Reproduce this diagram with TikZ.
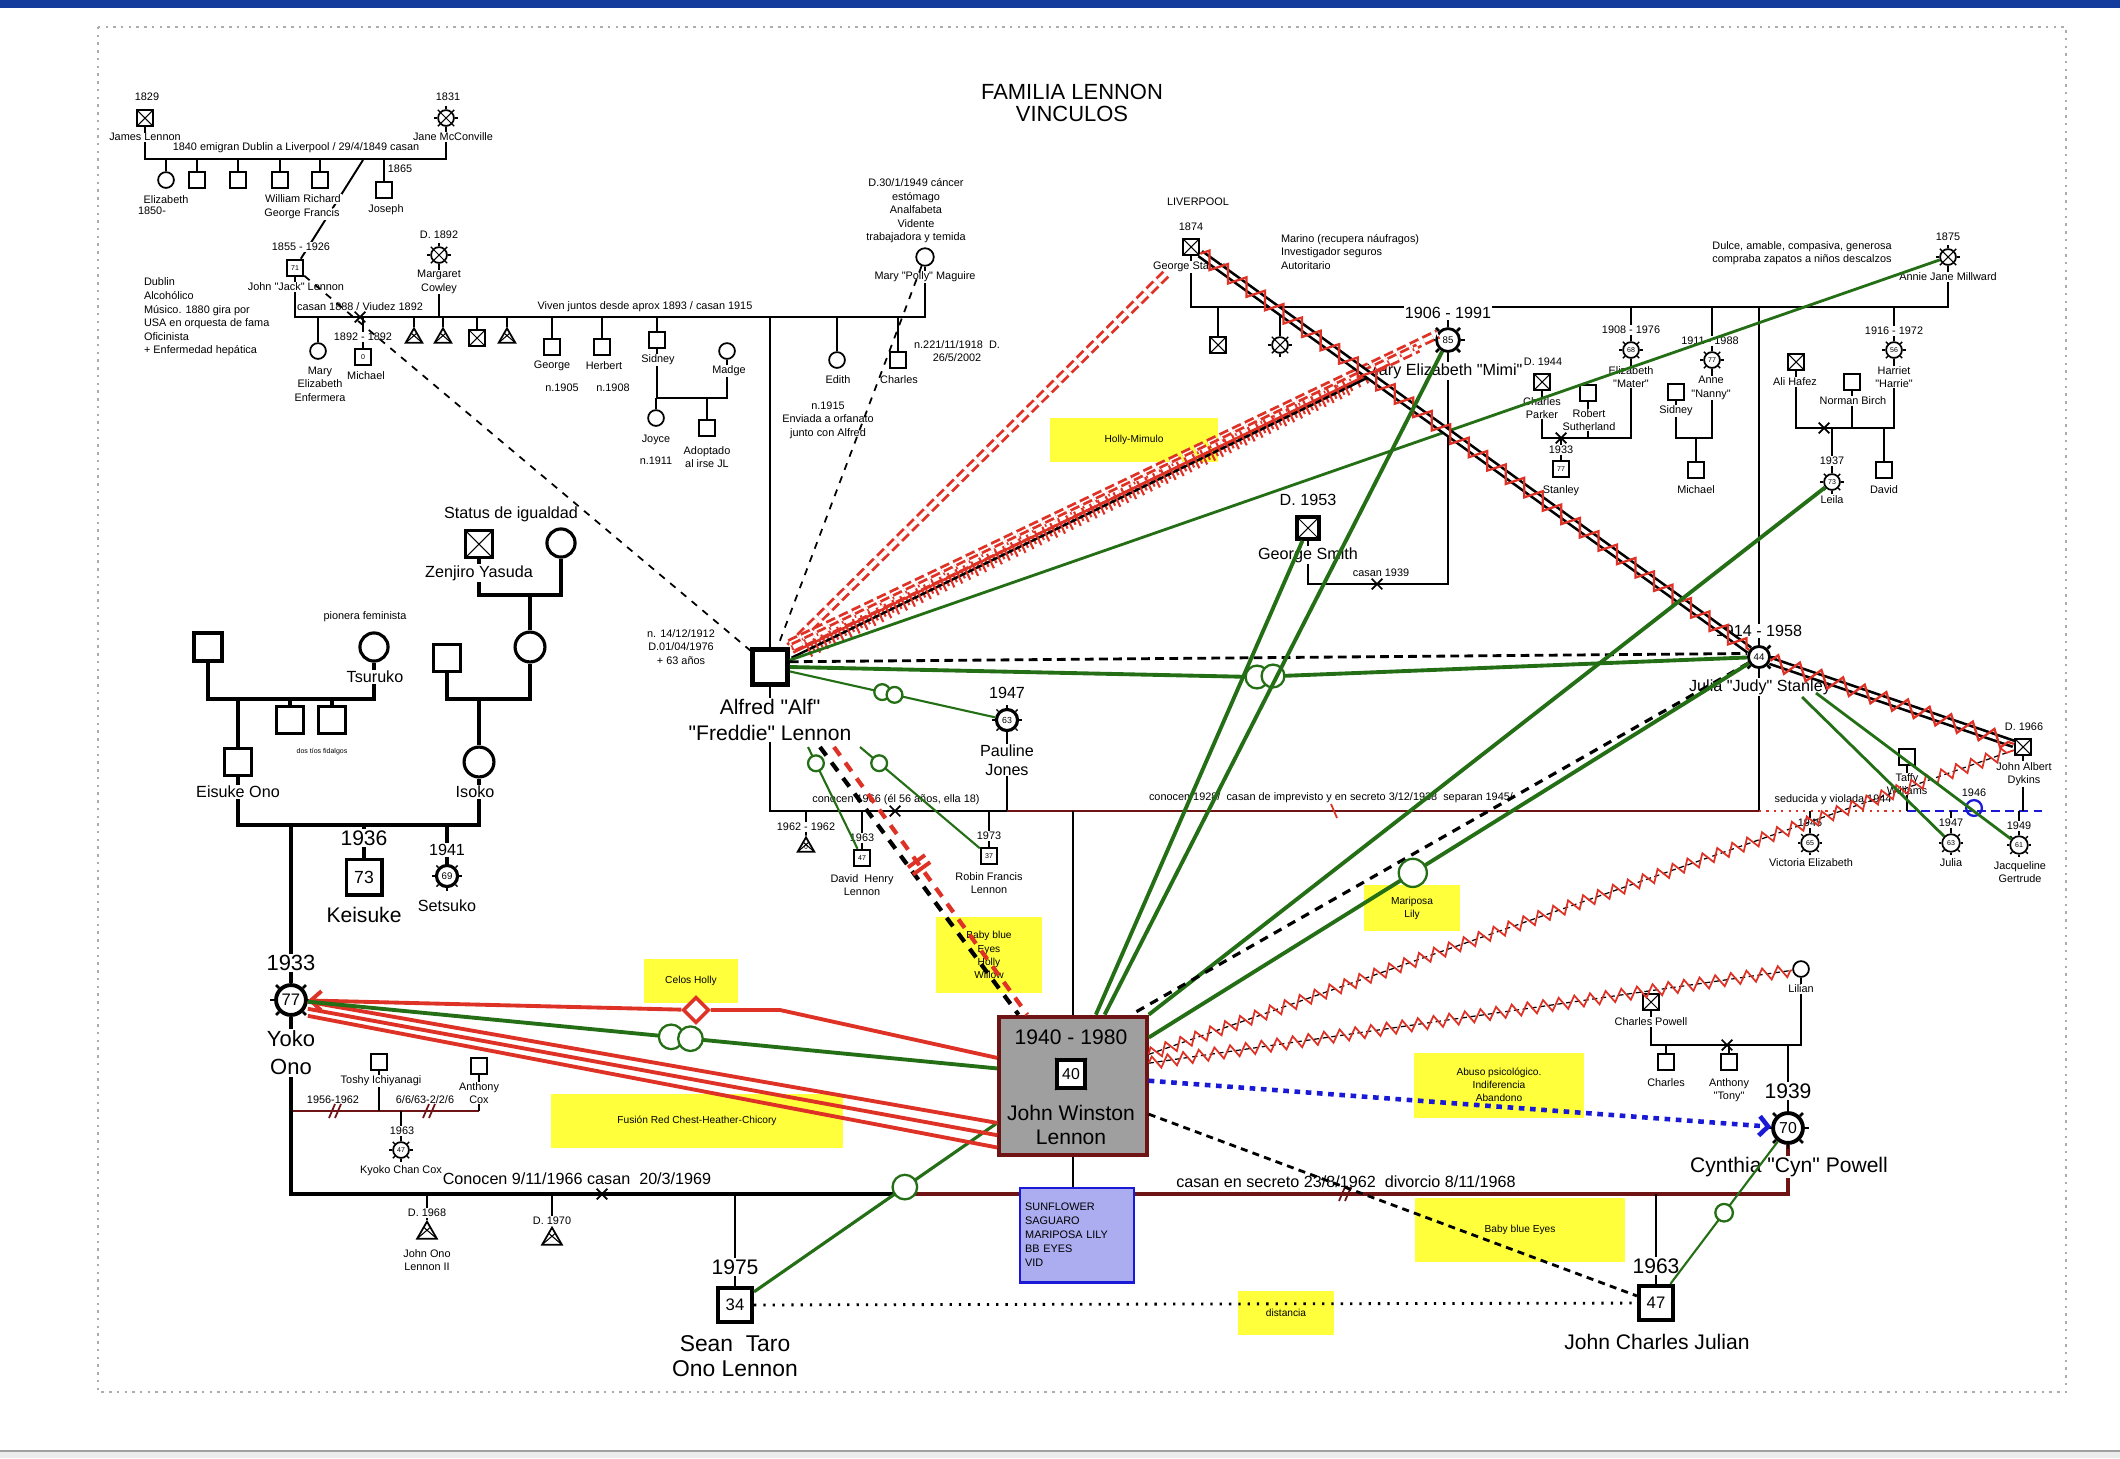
\documentclass[tikz,border=0pt]{standalone}
\usepackage{fontspec}
\setmainfont{Liberation Sans}[Ligatures=TeXOff]
\usetikzlibrary{arrows.meta,positioning,shapes.geometric,shapes.misc,decorations.pathmorphing,decorations.markings}
\definecolor{grn}{RGB}{36,110,22}
\definecolor{rd}{RGB}{222,50,38}
\definecolor{drd}{RGB}{110,20,20}
\definecolor{yel}{RGB}{255,255,60}
\definecolor{lav}{RGB}{172,172,240}
\definecolor{blu}{RGB}{26,26,214}
\definecolor{topbar}{RGB}{20,60,156}
\definecolor{frm}{RGB}{172,172,172}

\begin{document}
\begin{tikzpicture}[x=0.02cm,y=-0.02cm,>=Latex,
  tx/.style={font=\fontsize{6.2}{7.7}\selectfont,inner sep=0.4pt,align=center,fill=white},
  tm/.style={font=\fontsize{9.2}{10.6}\selectfont,inner sep=0.6pt,align=center,fill=white},
  tg/.style={font=\fontsize{12}{14}\selectfont,inner sep=0.8pt,align=center,fill=white},
  man/.style={draw,rectangle,fill=white,minimum size=9.5pt,inner sep=0pt,line width=1pt,font=\fontsize{4}{4}\selectfont},
  wom/.style={draw,circle,fill=white,minimum size=9pt,inner sep=0pt,line width=1pt,font=\fontsize{4}{4}\selectfont},
  lost/.style={draw,regular polygon,regular polygon sides=3,minimum size=11pt,inner sep=0pt,line width=1pt,fill=white,font=\fontsize{3.5}{3.5}\selectfont},
  dead/.style={path picture={\draw[line width=0.6pt] (path picture bounding box.south west) -- (path picture bounding box.north east) (path picture bounding box.north west) -- (path picture bounding box.south east);}},
  bold/.style={line width=2.2pt,minimum size=#1,font=\fontsize{9.5}{9.5}\selectfont},
  ono/.style={line width=1.8pt,minimum size=#1},
  xm/.style={cross out,draw,line width=1pt,minimum size=5pt,inner sep=0pt},
  fam/.style={line width=1.1pt},
  famb/.style={line width=2pt},
  note/.style={fill=yel,inner sep=0pt,font=\fontsize{5.8}{7.5}\selectfont,align=center},
  dsh/.style={line width=1pt,dash pattern=on 4pt off 4pt},
  rdd/.style={rd,line width=1.6pt,dash pattern=on 5.5pt off 2.5pt,double=white,double distance=2.4pt},
  gl/.style={grn,line width=2.2pt},
  gt/.style={grn,line width=1.2pt},
  ring/.style={circle,draw=grn,fill=white,line width=1.3pt,minimum size=#1,inner sep=0pt},
  zz/.style={rd,line width=1pt,decorate,decoration={zigzag,segment length=9pt,amplitude=3.5pt}},
  hatch/.style={line width=1.4pt,postaction={decorate,decoration={markings,mark=between positions 0.03 and 0.97 step 5pt with {\draw[rd,solid,line width=1.2pt] (0,-4.5pt) -- (0,4.5pt);}}}},
  tline/.style={rd,line width=1.4pt,postaction={decorate,decoration={markings,mark=between positions 0.03 and 0.97 step 5pt with {\draw[rd,solid,line width=1.2pt] (0,0) -- (0,-4.5pt);}}}},
]
\useasboundingbox (0,0) rectangle (2120,1458);
% marco
\fill[topbar] (0,0) rectangle (2120,8);
\fill[gray!15] (0,1451) rectangle (2120,1458);
\draw[gray!75,line width=1.2pt] (0,1451) -- (2120,1451);
\draw[frm,line width=1.4pt,dash pattern=on 1.4pt off 3pt] (98,27) rectangle (2066,1392);

% notas amarillas
\node[note,minimum width=96pt,minimum height=25pt] (nholly) at (1134,440) {Holly-Mimulo};
\node[note,minimum width=60pt,minimum height=43pt] (nbaby) at (989,955) {Baby blue\\Eyes\\Holly\\Willow};
\node[note,minimum width=54pt,minimum height=24.5pt] (ncelos) at (691,981) {Celos Holly};
\node[note,minimum width=166pt,minimum height=31pt] (nfusion) at (697,1121) {Fusión Red Chest-Heather-Chicory};
\node[note,minimum width=55pt,minimum height=26pt] (nmari) at (1412,908) {Mariposa\\Lily};
\node[note,minimum width=97pt,minimum height=37pt] (nabuso) at (1499,1085) {Abuso psicológico.\\Indiferencia\\Abandono};
\node[note,minimum width=120pt,minimum height=36pt] (nbabyb) at (1520,1230) {Baby blue Eyes};
\node[note,minimum width=55pt,minimum height=24.5pt] (ndist) at (1286,1313) {distancia};

\node[font=\fontsize{12.5}{12.5}\selectfont,align=center] (titulo) at (1072,103) {FAMILIA LENNON\\VINCULOS};

% Lennon
\node[man,dead] (james) at (145,118) {};
\node[wom,dead] (jane) at (446,118) {};
\node[wom] (eliz) at (166,180) {};
\node[man] (bro1) at (197,180) {};
\node[man] (bro2) at (238,180) {};
\node[man] (bro3) at (280,180) {};
\node[man] (bro4) at (320,180) {};
\node[man] (joseph) at (384,190) {};
\node[man] (jack) at (295,268) {71};
\node[wom,dead] (marg) at (439,255) {};
\node[wom,minimum size=10pt] (polly) at (925,257) {};
\node[wom] (maryel) at (318,351) {};
\node[man] (michael) at (363,357) {0};
\node[lost,dead] (lost1) at (414,338) {};
\node[lost,dead] (lost2) at (443,338) {};
\node[man,dead] (bro5) at (477,338) {};
\node[lost,dead] (lost3) at (507,338) {};
\node[man] (george) at (552,347) {};
\node[man] (herbert) at (602,347) {};
\node[man] (sidney) at (657,340) {};
\node[wom] (madge) at (727,351) {};
\node[wom] (joyce) at (656,418) {};
\node[man] (adopt) at (707,428) {};
\node[wom] (edith) at (837,360) {};
\node[man] (charles) at (898,360) {};

% Stanley
\node[man,dead] (gstan) at (1191,247) {};
\node[wom,dead] (annie) at (1948,257) {};
\node[man,dead] (sbro) at (1218,345) {};
\node[wom,dead] (ssis) at (1280,345) {};
\node[wom,minimum size=13pt,line width=1.6pt,font=\fontsize{5.5}{5.5}\selectfont] (mimi) at (1448,340) {85};
\node[wom] (mater) at (1631,350) {68};
\node[wom] (nanny) at (1712,360) {77};
\node[wom] (harriet) at (1894,350) {56};
\node[man,dead] (cparker) at (1542,382) {};
\node[man] (rsuth) at (1588,393) {};
\node[man] (stanley) at (1561,469) {77};
\node[man] (sidney2) at (1676,392) {};
\node[man] (michael2) at (1696,470) {};
\node[man,dead] (ali) at (1796,362) {};
\node[man] (norman) at (1852,382) {};
\node[wom] (leila) at (1832,482) {73};
\node[man] (david) at (1884,470) {};
\node[man,dead,minimum size=12.5pt,line width=2pt] (gsmith) at (1308,528) {};
\node[wom,minimum size=12pt,line width=1.6pt,font=\fontsize{5.5}{5.5}\selectfont] (julia) at (1759,657) {44};
\node[man] (taffy) at (1907,757) {};
\node[man,dead] (dykins) at (2023,747) {};
\node[wom,draw=blu,line width=1.3pt] (bchild) at (1974,808) {};
\node[wom,minimum size=10pt] (vicky) at (1810,843) {65};
\node[wom,minimum size=10pt] (juliad) at (1951,843) {63};
\node[wom,minimum size=10pt] (jacq) at (2019,845) {61};

% Alfred y Pauline
\node[man,line width=2.5pt,minimum size=20pt] (alfred) at (770,667) {};
\node[wom,minimum size=12pt,line width=1.8pt,font=\fontsize{5}{5}\selectfont] (pauline) at (1007,720) {63};
\node[lost,dead] (lost4) at (806,847) {0};
\node[man] (dhenry) at (862,858) {47};
\node[man] (robin) at (989,856) {37};

% John
\node[draw=drd,fill=gray!75,line width=2.2pt,minimum width=84pt,minimum height=79pt,inner sep=0pt] (johnbox) at (1073,1086) {};
\node[man,line width=2pt,minimum size=16pt,font=\fontsize{9}{9}\selectfont] (jsq) at (1071,1074) {40};

% Ono
\node[man,dead,ono=15pt] (zenjiro) at (479,544) {};
\node[wom,ono=16pt] (zwife) at (561,543) {};
\node[wom,ono=17pt] (imother) at (530,647) {};
\node[man,ono=15.5pt] (ifather) at (447,658) {};
\node[wom,ono=17pt] (isoko) at (479,762) {};
\node[man,ono=16pt] (efather) at (208,647) {};
\node[wom,ono=16pt] (tsuruko) at (374,647) {};
\node[man,ono=15.5pt] (tio1) at (290,720) {};
\node[man,ono=15.5pt] (tio2) at (332,720) {};
\node[man,ono=15pt] (eisuke) at (238,762) {};
\node[man,bold=20pt,font=\fontsize{10}{10}\selectfont] (keisuke) at (364,877) {73};
\node[wom,minimum size=12pt,line width=1.8pt,font=\fontsize{5.5}{5.5}\selectfont] (setsuko) at (447,876) {69};
\node[wom,bold=17pt] (yoko) at (291,1000) {77};
\node[man] (toshi) at (379,1062) {};
\node[man] (acox) at (479,1066) {};
\node[wom] (kyoko) at (401,1150) {47};
\node[lost,dead,minimum size=13pt] (jol) at (427,1233) {};
\node[lost,dead,minimum size=13pt] (lost5) at (552,1239) {};
\node[man,bold=19.5pt] (sean) at (735,1305) {34};
\node[wom,bold=17pt,font=\fontsize{9}{9}\selectfont] (cynthia) at (1788,1128) {70};
\node[man,dead] (cpowell) at (1651,1002) {};
\node[wom] (lilian) at (1801,969) {};
\node[man] (charlesp) at (1666,1062) {};
\node[man] (anthony) at (1729,1062) {};
\node[man,bold=19.5pt] (julian) at (1656,1303) {47};
\node[diamond,draw=rd,fill=white,line width=2pt,minimum size=15pt,inner sep=0pt] (dia) at (696,1010) {};

\coordinate (m1) at (0,159);
\coordinate (m2) at (0,317);
\coordinate (m3) at (0,398);
\coordinate (m4) at (0,307);
\coordinate (m5) at (0,584);
\coordinate (m6) at (0,438);
\coordinate (m7) at (0,428);
\coordinate (m8) at (0,811);
\coordinate (m9) at (0,1194);
\coordinate (m10) at (0,595);
\coordinate (m11) at (0,699);
\coordinate (m12) at (0,825);
\coordinate (m13) at (0,1111);
\coordinate (m14) at (0,1045);
\coordinate (jk1) at (363,160);
\coordinate (m9b) at (905,1194);
\coordinate (bl1) at (2043,811);

% lineas familiares
\draw[fam] (james) -- (james|-m1) -- (jane|-m1) -- (jane);
\foreach \c in {eliz,bro1,bro2,bro3,bro4,joseph} \draw[fam] (\c) -- (\c|-m1);
\draw[fam] (jk1) -- (jack);
\draw[fam] (jack) -- (jack|-m2) -- (polly|-m2) -- (polly);
\foreach \c in {marg,maryel,michael,lost1,lost2,bro5,lost3,george,herbert,sidney,alfred,edith,charles} \draw[fam] (\c) -- (\c|-m2);
\draw[fam] (sidney) -- (sidney|-m3) -- (madge|-m3) -- (madge);
\foreach \c in {joyce,adopt} \draw[fam] (\c) -- (\c|-m3);

\draw[fam] (gstan) -- (gstan|-m4) -- (annie|-m4) -- (annie);
\foreach \c in {sbro,ssis,mimi,mater,nanny,harriet,julia} \draw[fam] (\c) -- (\c|-m4);
\draw[fam] (mimi) -- (mimi|-m5) -- (gsmith|-m5) -- (gsmith);
\draw[fam] (cparker) -- (cparker|-m6) -- (mater|-m6) -- (mater);
\foreach \c in {rsuth,stanley} \draw[fam] (\c) -- (\c|-m6);
\draw[fam] (sidney2) -- (sidney2|-m6) -- (nanny|-m6) -- (nanny);
\draw[fam] (michael2) -- (michael2|-m6);
\draw[fam] (ali) -- (ali|-m7) -- (harriet|-m7) -- (harriet);
\foreach \c in {norman,leila,david} \draw[fam] (\c) -- (\c|-m7);

\draw[fam] (alfred) -- (alfred|-m8) -- (pauline|-m8) -- (pauline);
\draw[fam,drd] (pauline|-m8) -- (julia|-m8);
\draw[fam] (julia) -- (julia|-m8);
\draw[rd,line width=1.2pt,dash pattern=on 1.2pt off 3pt] (julia|-m8) -- (taffy|-m8);
\draw[blu,line width=1.6pt,dash pattern=on 5pt off 3pt] (taffy|-m8) -- (bl1);
\foreach \c in {taffy,dykins,vicky,juliad,jacq,lost4,dhenry,robin} \draw[fam] (\c) -- (\c|-m8);
\draw[fam] (johnbox) -- (johnbox|-m8);

\draw[famb] (zenjiro) -- (zenjiro|-m10) -- (zwife|-m10) -- (zwife);
\draw[famb] (imother) -- (imother|-m10);
\draw[famb] (ifather) -- (ifather|-m11) -- (imother|-m11) -- (imother);
\draw[famb] (isoko) -- (isoko|-m11);
\draw[famb] (efather) -- (efather|-m11) -- (tsuruko|-m11) -- (tsuruko);
\foreach \c in {tio1,tio2,eisuke} \draw[famb] (\c) -- (\c|-m11);
\draw[famb] (eisuke) -- (eisuke|-m12) -- (isoko|-m12) -- (isoko);
\foreach \c in {keisuke,setsuko,yoko} \draw[famb] (\c) -- (\c|-m12);

\draw[fam,drd,line width=1.6pt] (yoko|-m13) -- (acox|-m13);
\foreach \c in {toshi,acox,kyoko} \draw[fam] (\c) -- (\c|-m13);
\draw[famb] (yoko) -- (yoko|-m9) -- (m9b);
\draw[drd,line width=2pt] (m9b) -- (cynthia|-m9) -- (cynthia);
\foreach \c in {jol,lost5,sean,julian} \draw[fam] (\c) -- (\c|-m9);
\draw[fam] (johnbox) -- (johnbox|-m9);
\draw[fam] (cpowell) -- (cpowell|-m14) -- (lilian|-m14) -- (lilian);
\foreach \c in {charlesp,anthony,cynthia} \draw[fam] (\c) -- (\c|-m14);

\node[draw=blu,fill=lav,line width=1.2pt,text width=59pt,minimum height=54pt,inner sep=3pt,align=left,font=\fontsize{6.2}{8}\selectfont] (sunbox) at (1077,1235) {SUNFLOWER\\SAGUARO\\MARIPOSA LILY\\BB EYES\\VID};

% cruces y barras
\node[xm] (x1) at (360,317) {};
\node[xm] (x2) at (1561,438) {};
\node[xm] (x3) at (1824,428) {};
\node[xm] (x4) at (1377,584) {};
\node[xm] (x5) at (895,811) {};
\node[xm] (x6) at (602,1194) {};
\node[xm] (x7) at (1727,1045) {};
\foreach \p in {(333,1111),(427,1111),(1343,1194)}
  \draw[drd,line width=1pt] \p ++(-4,7) -- ++(6,-14) \p ++(2,7) -- ++(6,-14);
\draw[rd,line width=1pt] (1331,804) -- (1337,818);

% marcas de edad
\foreach \n in {jane,marg,ssis,annie,mater,nanny,harriet,leila,pauline,vicky,juliad,jacq,setsuko,kyoko}
  \foreach \a in {0,45,...,315} \draw[line width=0.8pt] (\n.\a) -- ++(\a:1.6pt);
\foreach \n in {mimi,julia,yoko,cynthia}
  \foreach \a in {0,45,...,315} \draw[line width=1.5pt] (\n.\a) -- ++(\a:2.4pt);
\foreach \a in {45,135,225,315} \draw[line width=1pt] (jsq.\a) -- ++(\a+180:3pt);

% textos Lennon
\node[tx] (l1829) at (147,97) {1829};
\node[tx] (ljames) at (145,137) {James Lennon};
\node[tx] (l1831) at (448,97) {1831};
\node[tx] (ljane) at (453,137) {Jane McConville};
\node[tx,fill=none] (l1840) at (296,148) {1840 emigran Dublin a Liverpool / 29/4/1849 casan};
\node[tx] (leliz) at (166,200) {Elizabeth};
\node[tx] (l1850) at (152,211) {1850-};
\node[tx] (lwill) at (303,199) {William Richard};
\node[tx] (lgeof) at (302,214) {George Francis};
\node[tx] (l1865) at (400,169) {1865};
\node[tx] (ljoseph) at (386,210) {Joseph};
\node[tx] (l1855) at (301,247) {1855 - 1926};
\node[tx,align=left,anchor=north west,fill=none] (ldublin) at (143,277) {Dublin\\Alcohólico\\Músico. 1880 gira por\\USA en orquesta de fama\\Oficinista\\+ Enfermedad hepática};
\node[tx] (ljack) at (296,287) {John "Jack" Lennon};
\node[tx] (ld1892) at (439,235) {D. 1892};
\node[tx] (lmarg) at (439,282) {Margaret\\Cowley};
\node[tx,fill=none] (lcasan88) at (360,307) {casan 1888 / Viudez 1892};
\node[tx,fill=none] (lviven) at (645,307) {Viven juntos desde aprox 1893 / casan 1915};
\node[tx] (l1892) at (363,337) {1892 - 1892};
\node[tx] (lmaryel) at (320,384) {Mary\\Elizabeth\\Enfermera};
\node[tx] (lmichael) at (366,376) {Michael};
\node[tx] (lgeorge) at (552,366) {George};
\node[tx] (ln1905) at (562,388) {n.1905};
\node[tx] (lherbert) at (604,366) {Herbert};
\node[tx] (ln1908) at (613,388) {n.1908};
\node[tx] (lsidney) at (658,360) {Sidney};
\node[tx] (lmadge) at (729,371) {Madge};
\node[tx] (ljoyce) at (656,440) {Joyce};
\node[tx] (ln1911) at (656,461) {n.1911};
\node[tx] (ladopt) at (707,457) {Adoptado\\al irse JL};
\node[tx] (ledith) at (838,380) {Edith};
\node[tx] (lcharles) at (899,380) {Charles};
\node[tx] (lcharlesd) at (957,351) {n.221/11/1918\ \ D.\\26/5/2002};
\node[tx] (ln1915) at (828,420) {n.1915\\Enviada a orfanato\\junto con Alfred};
\node[tx] (lpolly) at (925,277) {Mary "Polly" Maguire};
\node[tx] (lpollyn) at (916,211) {D.30/1/1949 cáncer\\estómago\\Analfabeta\\Vidente\\trabajadora y temida};

% textos Stanley
\node[tx] (lliv) at (1198,202) {LIVERPOOL};
\node[tx] (l1874) at (1191,227) {1874};
\node[tx] (lgstan) at (1191,267) {George Stanley};
\node[tx,align=left,anchor=north west] (lmarino) at (1280,233) {Marino (recupera náufragos)\\Investigador seguros\\Autoritario};
\node[tx] (l1875) at (1948,237) {1875};
\node[tx] (lannie) at (1948,277) {Annie Jane Millward};
\node[tx] (ldulce) at (1802,253) {Dulce, amable, compasiva, generosa\\compraba zapatos a niños descalzos};
\node[tm] (l1906) at (1448,313) {1906 - 1991};
\node[tm] (lmimi) at (1444,371) {Mary Elizabeth "Mimi"};
\node[tx] (ld1944) at (1543,362) {D. 1944};
\node[tx] (lcparker) at (1542,408) {Charles\\Parker};
\node[tx] (l1908) at (1631,330) {1908 - 1976};
\node[tx] (lmater) at (1631,377) {Elizabeth\\"Mater"};
\node[tx] (lrsuth) at (1589,420) {Robert\\Sutherland};
\node[tx] (l1933s) at (1561,450) {1933};
\node[tx] (lstanley) at (1561,491) {Stanley};
\node[tx] (l1911) at (1710,341) {1911 - 1988};
\node[tx] (lnanny) at (1711,388) {Anne\\"Nanny"};
\node[tx] (lsidney2) at (1676,411) {Sidney};
\node[tx] (lmichael2) at (1696,490) {Michael};
\node[tx] (l1916) at (1894,331) {1916 - 1972};
\node[tx] (lharriet) at (1894,377) {Harriet\\"Harrie"};
\node[tx] (lali) at (1795,382) {Ali Hafez};
\node[tx] (lnorman) at (1853,401) {Norman Birch};
\node[tx] (l1937) at (1832,461) {1937};
\node[tx] (lleila) at (1832,500) {Leila};
\node[tx] (ldavid) at (1884,490) {David};
\node[tm] (ld1953) at (1308,500) {D. 1953};
\node[tm] (lgsmith) at (1308,555) {George Smith};
\node[tx,fill=none] (lcasan39) at (1381,573) {casan 1939};
\node[tm] (l1914) at (1759,631) {1914 - 1958};
\node[tm] (ljulia) at (1760,687) {Julia "Judy" Stanley};
\node[tx] (ld1966) at (2024,727) {D. 1966};
\node[tx] (ldykins) at (2024,774) {John Albert\\Dykins};
\node[tx] (ltaffy) at (1907,784) {Taffy\\Williams};
\node[tx,fill=none] (lseduc) at (1833,800) {seducida y violada 1944};
\node[tx,fill=none] (l1946) at (1974,793) {1946};
\node[tx] (l1945) at (1810,823) {1945};
\node[tx] (lvicky) at (1811,863) {Victoria Elizabeth};
\node[tx] (l1947j) at (1951,823) {1947};
\node[tx] (ljuliad) at (1951,863) {Julia};
\node[tx] (l1949) at (2019,826) {1949};
\node[tx] (ljacq) at (2020,872) {Jacqueline\\Gertrude};

% textos Alfred y John
\node[tx] (lalfredn) at (681,647) {n. 14/12/1912\\D.01/04/1976\\+ 63 años};
\node[tg,font=\fontsize{12}{15}\selectfont] (lalfred) at (770,720) {Alfred "Alf"\\"Freddie" Lennon};
\node[tm] (l1947p) at (1007,693) {1947};
\node[tm] (lpauline) at (1007,760) {Pauline\\Jones};
\node[tx,fill=none] (lconoc66) at (896,800) {conocen 1966 (él 56 años, ella 18)};
\node[tx,fill=none] (lconoc28) at (1331,798) {conocen 1928/\ \ casan de imprevisto y en secreto 3/12/1938\ \ separan 1945/};
\node[tx] (l1962) at (806,827) {1962 - 1962};
\node[tx] (l1963d) at (862,838) {1963};
\node[tx] (ldhenry) at (862,885) {David\ \ Henry\\Lennon};
\node[tx] (l1973) at (989,836) {1973};
\node[tx] (lrobin) at (989,883) {Robin Francis\\Lennon};
\node[tg,fill=none] (l1940) at (1071,1037) {1940 - 1980};
\node[tg,fill=none] (ljohn) at (1071,1125) {John Winston\\Lennon};

% textos Ono
\node[tm] (lstatus) at (511,514) {Status de igualdad};
\node[tm] (lzenjiro) at (479,573) {Zenjiro Yasuda};
\node[tx] (lpionera) at (365,617) {pionera feminista};
\node[tm] (ltsuruko) at (375,677) {Tsuruko};
\node[tx,font=\fontsize{4}{4}\selectfont] (ltios) at (322,752) {dos tíos fidalgos};
\node[tm] (leisuke) at (238,792) {Eisuke Ono};
\node[tm] (lisoko) at (475,792) {Isoko};
\node[tg] (l1936) at (364,838) {1936};
\node[tg] (lkeisuke) at (364,915) {Keisuke};
\node[tm] (l1941) at (447,850) {1941};
\node[tm] (lsetsuko) at (447,906) {Setsuko};
\node[tg,font=\fontsize{12.5}{16}\selectfont] (l1933) at (291,963) {1933};
\node[tg,font=\fontsize{12.5}{16}\selectfont] (lyoko) at (291,1053) {Yoko\\Ono};
\node[tx] (ltoshi) at (381,1081) {Toshy Ichiyanagi};
\node[tx] (lacox) at (479,1093) {Anthony\\Cox};
\node[tx,fill=none] (l1956) at (333,1100) {1956-1962};
\node[tx,fill=none] (l6663) at (425,1100) {6/6/63-2/2/6};
\node[tx] (l1963k) at (402,1131) {1963};
\node[tx] (lkyoko) at (401,1171) {Kyoko Chan Cox};
\node[tm,fill=none] (lconoc69) at (577,1179) {Conocen 9/11/1966 casan\ \ 20/3/1969};
\node[tx] (ld1968) at (427,1213) {D. 1968};
\node[tx] (ljol) at (427,1260) {John Ono\\Lennon II};
\node[tx] (ld1970) at (552,1221) {D. 1970};
\node[tg] (l1975) at (735,1267) {1975};
\node[tg,font=\fontsize{13}{14.5}\selectfont] (lsean) at (735,1356) {Sean\ \ Taro\\Ono Lennon};
\node[tm,fill=none] (lcasan62) at (1346,1182) {casan en secreto 23/8/1962\ \ divorcio 8/11/1968};
\node[tx] (lcpowell) at (1651,1022) {Charles Powell};
\node[tx] (llilian) at (1801,989) {Lilian};
\node[tx] (lcharlesp) at (1666,1083) {Charles};
\node[tx] (lanthony) at (1729,1090) {Anthony\\"Tony"};
\node[tg] (l1939) at (1788,1091) {1939};
\node[tg] (lcynthia) at (1789,1167) {Cynthia "Cyn" Powell};
\node[tg] (l1963j) at (1656,1266) {1963};
\node[tg] (ljulian) at (1657,1342) {John Charles Julian};

% vinculos
\coordinate (gs1) at (1166,274);
\coordinate (mf1) at (1438,334);
\coordinate (mf2) at (1418,348);
\coordinate (mf3) at (1390,364);
\coordinate (mf4) at (1367,378);
\coordinate (fs1) at (820,747);
\coordinate (fs2) at (834,747);
\coordinate (ga1) at (808,747);
\coordinate (ga2) at (860,747);
\coordinate (jd1) at (1802,697);
\coordinate (jd2) at (1816,693);
\coordinate (dm2) at (780,1010);
\coordinate (aj) at (1255,677);

\draw[dsh] (jack) -- (alfred);
\draw[dsh] (polly) -- (alfred);
\draw[rdd] (alfred.north east) -- (gs1);
\draw[rdd] ([yshift=2pt]alfred.north east) -- (mf1);
\draw[rdd] ([xshift=2pt]alfred.north east) -- (mf2);
\draw[tline] ([xshift=2pt,yshift=-3pt]alfred.north east) -- (mf3);
\draw[hatch] ([xshift=1pt,yshift=-6pt]alfred.north east) -- (mf4);
\draw[gt,line width=1.6pt] (alfred) -- (annie);
\draw[line width=1.6pt,dash pattern=on 5pt off 3pt] ([yshift=3pt]alfred.east) -- ([yshift=2pt]julia.west);
\draw[gl] (alfred.east) -- (aj) -- (julia);
\node[ring=13pt] (r1) at (1257,677) {};
\node[ring=13pt] (r2) at (1273,676) {};
\draw[gt] (alfred) -- node[ring=9pt,pos=0.45] (r3) {} node[ring=9pt,pos=0.51] (r4) {} (pauline);
\draw[gt] (ga1) -- node[ring=9pt,pos=0.16] (r5) {} (dhenry);
\draw[gt] (ga2) -- node[ring=9pt,pos=0.16] (r6) {} (robin);
\draw[line width=2.4pt,dash pattern=on 6pt off 5pt] (fs1) -- ([xshift=-31pt]johnbox.north);
\draw[rd,line width=2.4pt,dash pattern=on 6pt off 5pt,postaction={decorate,decoration={markings,mark=at position 0.44 with {\draw[rd,solid,line width=2.2pt] (-2.5pt,-6pt) -- (-2.5pt,6pt) (2.5pt,-6pt) -- (2.5pt,6pt);}}}] (fs2) -- ([xshift=-26pt]johnbox.north);

% conflictos Stanley
\draw[line width=1.5pt,double=white,double distance=2pt] (gstan) -- (julia);
\draw[zz,line width=1.3pt,decoration={zigzag,segment length=13pt,amplitude=4.5pt}] (gstan) -- (julia);
\draw[line width=1.5pt,double=white,double distance=2pt] (julia) -- (dykins);
\draw[zz,line width=1.3pt,decoration={zigzag,segment length=13pt,amplitude=4.5pt}] (julia) -- (dykins);

% vinculos de John
\draw[gl] ([xshift=13pt]johnbox.north) -- (gsmith);
\draw[gl] ([xshift=18pt]johnbox.north) -- (mimi);
\draw[gl] (leila) -- (johnbox.north east);
\draw[line width=1.8pt,dash pattern=on 5pt off 4pt] (julia) -- ([xshift=-10pt]johnbox.north east);
\draw[gl] (julia) -- node[ring=16pt,pos=0.56] (r7) {} ([yshift=-13pt]johnbox.north east);
\draw[line width=0.7pt,dash pattern=on 3pt off 2pt] ([yshift=18pt]johnbox.east) -- (dykins);
\draw[zz] ([yshift=18pt]johnbox.east) -- (dykins);
\draw[line width=0.7pt,dash pattern=on 3pt off 2pt] ([yshift=13pt]johnbox.east) -- (lilian);
\draw[zz] ([yshift=13pt]johnbox.east) -- (lilian);
\draw[blu,line width=2.6pt,dash pattern=on 3.2pt off 3.2pt,-{Straight Barb[length=5pt,width=11pt]}] ([yshift=3pt]johnbox.east) -- (cynthia);
\draw[line width=1.6pt,dash pattern=on 4pt off 3pt] (johnbox) -- (julian);
\draw[gt] (cynthia) -- node[ring=10pt,pos=0.5] (r8) {} (julian);
\draw[line width=1.6pt,dash pattern=on 1.3pt off 4pt] (sean) -- (julian);
\draw[gl,line width=1.8pt] (sean) -- node[ring=14pt,pos=0.62] (r9) {} ([yshift=-21pt]johnbox.west);
\draw[gt,line width=1.6pt] (jd1) -- (juliad);
\draw[gt,line width=1.6pt] (jd2) -- (jacq);

% Yoko
\draw[rd,line width=2.2pt] ([yshift=-1pt]yoko.east) -- ([yshift=-21pt]johnbox.west);
\draw[rd,line width=2.2pt] ([yshift=-5pt]yoko.east) -- ([yshift=-28pt]johnbox.west);
\draw[rd,line width=2.2pt] ([yshift=-9pt]yoko.east) -- ([yshift=-35pt]johnbox.west);
\draw[rd,line width=2.2pt] ([yshift=16pt]johnbox.west) -- (dm2) -- (dia);
\draw[rd,line width=2.2pt,-{Straight Barb[length=6pt,width=11pt]}] (dia) -- (yoko);
\draw[gl] (yoko) -- node[ring=14pt,pos=0.527] (r10) {} node[ring=14pt,pos=0.555] (r11) {} ([yshift=10pt]johnbox.west);
\end{tikzpicture}
\end{document}
